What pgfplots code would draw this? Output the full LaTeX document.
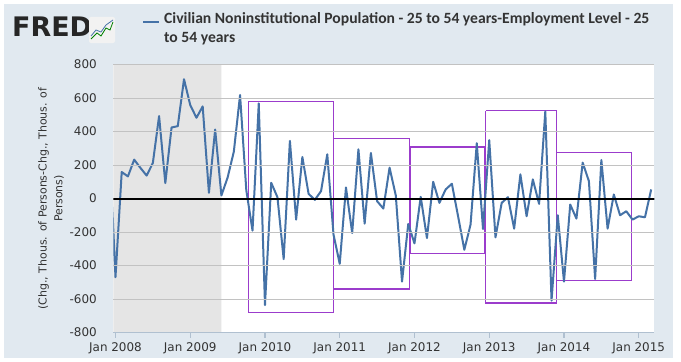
\documentclass[border=0pt]{standalone}
\usepackage{fontspec}
\setmainfont{DejaVu Sans}
\newfontfamily\titlefont{Carlito}
\usepackage{pgfplots}
\usepackage{pgfplotstable}
\pgfplotsset{compat=1.18}
\definecolor{panel}{HTML}{E1E9F0}
\definecolor{fredblue}{HTML}{4572A7}
\definecolor{recess}{HTML}{E5E5E5}
\definecolor{boxpurple}{HTML}{9B3CCC}
\definecolor{gridc}{HTML}{C2C2C2}
\definecolor{txt}{HTML}{333333}
\definecolor{axisc}{HTML}{B0C0D0}

\pgfplotstableread{
m v
-1 340
0 -470
1 158
2 132
3 232
4 183
5 137
6 212
7 492
8 92
9 424
10 432
11 712
12 558
13 482
14 550
15 34
16 412
17 18
18 125
19 280
20 618
21 50
22 -192
23 568
24 -636
25 94
26 8
27 -362
28 344
29 -126
30 248
31 28
32 -8
33 44
34 264
35 -215
36 -390
37 66
38 -206
39 294
40 -150
41 272
42 -16
43 -60
44 184
45 18
46 -496
47 -152
48 -268
49 10
50 -236
51 100
52 -26
53 54
54 88
55 -106
56 -306
57 -156
58 330
59 -182
60 348
61 -232
62 -26
63 8
64 -180
65 144
66 -106
67 114
68 -32
69 520
70 -610
71 -100
72 -496
73 -36
74 -120
75 214
76 104
77 -480
78 230
79 -180
80 24
81 -100
82 -76
83 -126
84 -106
85 -112
86 54
}\datatable

\begin{document}
\begin{tikzpicture}
\begin{scope}[x=1bp,y=1bp]
\path[use as bounding box] (0,0) rectangle (681,361);
\fill[white] (0,0) rectangle (681,361);
\fill[panel] (4,3) rectangle (673,357);
\fill[white] (113.3,28.5) rectangle (654.3,296.5);
\node[anchor=west, inner sep=0, font=\fontsize{27}{27}\selectfont\bfseries, text=black!85] at (12,334) {FRED};
\fill[white!90!gray, rounded corners=2bp] (89,318) rectangle (115,344);
\draw[green!50!black, line width=0.8bp] (91,322) -- (97,328) -- (101,325) -- (106,333) -- (110,331) -- (113,339);
\draw[fredblue, line width=0.8bp] (91,325) -- (96,331) -- (101,329) -- (106,336) -- (113,341);
\draw[fredblue, line width=2bp] (143,339) -- (159,339);
\node[anchor=north west, align=left, inner sep=0, font=\titlefont\bfseries\fontsize{15.7}{19}\selectfont, text=txt] at (164,349) {Civilian Noninstitutional Population - 25 to 54 years-Employment Level - 25\\to 54 years};
\end{scope}
\begin{axis}[
  at={(113.3bp,28.5bp)}, anchor=south west, scale only axis,
  width=541bp, height=268bp,
  xmin=-0.35, xmax=86.5, ymin=-800, ymax=800,
  axis on top,
  ytick={-800,-600,-400,-200,200,400,600,800},
  yticklabels={-800,-600,-400,-200,200,400,600,800},
  extra y ticks={0}, extra y tick labels={0},
  extra y tick style={ymajorgrids=false, ytick style={draw=none}},
  ymajorgrids, grid style={draw=gridc, line width=1bp},
  xtick={0,12,24,36,48,60,72,84},
  xticklabels={Jan 2008,Jan 2009,Jan 2010,Jan 2011,Jan 2012,Jan 2013,Jan 2014,Jan 2015},
  axis x line*=bottom, axis y line*=left,
  x axis line style={axisc, line width=1.2bp},
  y axis line style={draw=none},
  ytick style={draw=none},
  xtick style={axisc, line width=1.2bp},
  tick align=outside, major tick length=5bp,
  tick label style={font=\fontsize{12}{12}\selectfont, text=txt},
  yticklabel style={xshift=-8bp},
  xticklabel style={yshift=-2bp},
  ylabel={(Chg., Thous. of Persons-Chg., Thous. of\\Persons)},
  ylabel style={at={(axis description cs:-0.115,0.5)}, anchor=center, align=center, font=\fontsize{11}{16}\selectfont, text=txt},
]
\addplot[fill=recess, draw=none] coordinates {(-1,-800) (17,-800) (17,800) (-1,800) (-1,-800)};
\addplot[draw=boxpurple, line width=1.2bp, no marks] coordinates {(21.3,580) (35,580) (35,-680) (21.3,-680) (21.3,580)};
\addplot[draw=boxpurple, line width=1.2bp, no marks] coordinates {(35,356) (47.2,356) (47.2,-540) (35,-540) (35,356)};
\addplot[draw=boxpurple, line width=1.2bp, no marks] coordinates {(47.35,308) (59.3,308) (59.3,-330) (47.35,-330) (47.35,308)};
\addplot[draw=boxpurple, line width=1.2bp, no marks] coordinates {(59.45,524) (70.8,524) (70.8,-624) (59.45,-624) (59.45,524)};
\addplot[draw=boxpurple, line width=1.2bp, no marks] coordinates {(70.8,274) (82.8,274) (82.8,-488) (70.8,-488) (70.8,274)};
\addplot[draw=fredblue, line width=2bp, no marks, line join=round] table[x=m, y=v] {\datatable};
\addplot[draw=black, line width=2bp, no marks] coordinates {(-1,0) (90,0)};
\end{axis}
\end{tikzpicture}
\end{document}
